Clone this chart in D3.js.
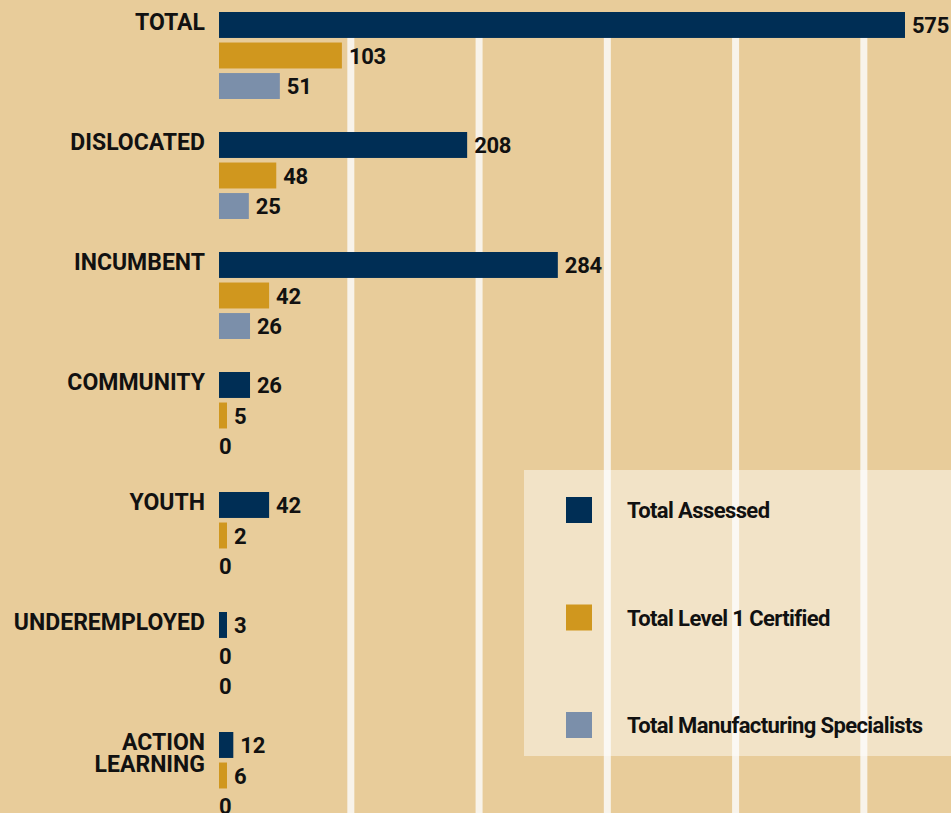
<!DOCTYPE html>
<html lang="en">
    <head>
        <meta charset="utf-8">
        <title>Assessed and Certified</title>
        <script src="https://d3js.org/d3.v7.min.js"></script>
        <style type="text/css">
            body {
                margin: 0;
                background: #E8CC9A;
            }
            svg {
                display: block;
            }
            .cat, .val, .legend-text {
                font-family: Roboto, "Liberation Sans", sans-serif;
                font-weight: bold;
                fill: #111;
            }
            .cat {
                font-size: 23px;
            }
            .val {
                font-size: 22px;
                letter-spacing: -0.3px;
            }
            .legend-text {
                font-size: 22px;
                letter-spacing: -0.6px;
            }
        </style>
    </head>
    <body>
        <svg width="951" height="813"></svg>
        <script type="text/javascript">

            const categories = ["TOTAL", "DISLOCATED", "INCUMBENT", "COMMUNITY", "YOUTH", "UNDEREMPLOYED", "ACTION\nLEARNING"];
            const series = ["Total Assessed", "Total Level 1 Certified", "Total Manufacturing Specialists"];
            const assessed = [575, 208, 284, 26, 42, 3, 12];
            const certified = [103, 48, 42, 5, 2, 0, 6];
            const specialists = [51, 25, 26, 0, 0, 0, 0];
            const gridValues = [110.5, 218, 325.5, 433, 540.5];
            const colors = ["#002E55", "#D0971E", "#7B8FAA"];

            const svg = d3.select("svg");
            const w = 951;
            const h = 813;

            const values = [assessed, certified, specialists];
            const rows = [];
            categories.forEach((c, i) => {
                series.forEach((s, j) => {
                    rows.push({cat: c, series: s, value: values[j][i]});
                });
            });

            // scales
            const x = d3.scaleLinear()
                        .domain([0, 575])
                        .range([219, 905]);

            const y0 = d3.scaleBand()
                         .domain(categories)
                         .range([12, 12 + 120 * categories.length]);

            const y1 = d3.scaleBand()
                         .domain(series)
                         .range([0, 87])
                         .paddingInner(0.15);

            const color = d3.scaleOrdinal()
                            .domain(series)
                            .range(colors);

            //gridlines
            svg.selectAll("line.grid")
               .data(gridValues)
               .enter()
               .append("line")
               .attr("class", "grid")
               .attr("x1", d => x(d))
               .attr("x2", d => x(d))
               .attr("y1", y0.range()[0])
               .attr("y2", h)
               .attr("stroke", "#F8F3EA")
               .attr("stroke-width", 7);

            //bars
            const barWidth = d => d.value === 0 ? 0 : Math.max(x(d.value) - x(0), 8);

            svg.selectAll("rect.bar")
               .data(rows)
               .enter()
               .append("rect")
               .attr("class", "bar")
               .attr("x", x(0))
               .attr("y", d => y0(d.cat) + y1(d.series))
               .attr("width", barWidth)
               .attr("height", y1.bandwidth())
               .attr("fill", d => color(d.series));

            //value labels
            svg.selectAll("text.val")
               .data(rows)
               .enter()
               .append("text")
               .attr("class", "val")
               .attr("x", d => d.value === 0 ? x(0) : x(0) + barWidth(d) + 7)
               .attr("y", d => y0(d.cat) + y1(d.series) + y1.bandwidth() / 2 + 8)
               .text(d => d.value);

            //category labels
            const cats = svg.selectAll("text.cat")
               .data(categories)
               .enter()
               .append("text")
               .attr("class", "cat")
               .attr("text-anchor", "end")
               .attr("y", d => y0(d) + 18);

            cats.selectAll("tspan")
                .data(d => d.split("\n"))
                .enter()
                .append("tspan")
                .attr("x", 205)
                .attr("dy", (d, i) => i === 0 ? 0 : 22)
                .text(d => d);

            //legend
            const legendY = d3.scalePoint()
                              .domain(series)
                              .range([510, 725]);

            svg.append("rect")
               .attr("x", 524)
               .attr("y", 470)
               .attr("width", w - 524)
               .attr("height", 286)
               .attr("fill", "#FFFFFF")
               .attr("fill-opacity", 0.45);

            const legend = svg.selectAll("g.legend")
                              .data(series)
                              .enter()
                              .append("g")
                              .attr("class", "legend")
                              .attr("transform", d => "translate(0," + legendY(d) + ")");

            legend.append("rect")
                  .attr("x", 566)
                  .attr("y", -13)
                  .attr("width", 26)
                  .attr("height", 26)
                  .attr("fill", d => color(d));

            legend.append("text")
                  .attr("class", "legend-text")
                  .attr("x", 627)
                  .attr("y", 8)
                  .text(d => d);

        </script>
    </body>
</html>
